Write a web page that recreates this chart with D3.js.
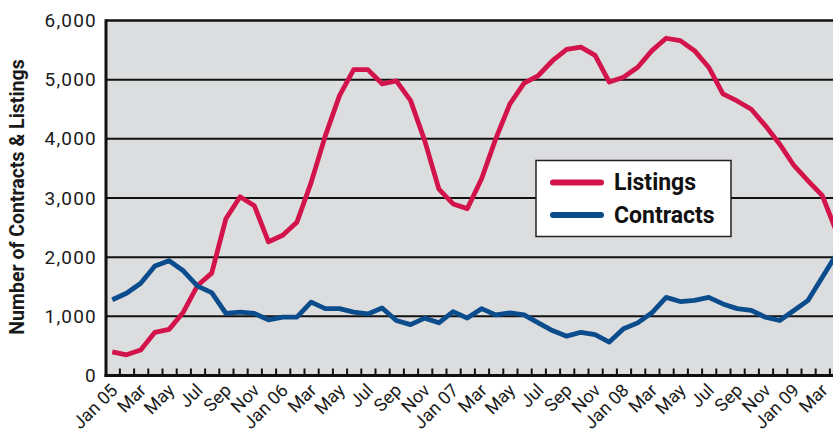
<!DOCTYPE html>
<html>
<head>
<meta charset="utf-8">
<script src="https://cdn.jsdelivr.net/npm/d3@7"></script>
<style>
  html, body { margin: 0; padding: 0; background: #ffffff; }
  svg { display: block; }
</style>
</head>
<body>
<svg id="chart" width="833" height="432"></svg>
<script>
// Monthly listings and contracts, Jan 2005 – Apr 2009
const months = ["Jan 05","Feb","Mar","Apr","May","Jun","Jul","Aug","Sep","Oct","Nov","Dec",
                "Jan 06","Feb","Mar","Apr","May","Jun","Jul","Aug","Sep","Oct","Nov","Dec",
                "Jan 07","Feb","Mar","Apr","May","Jun","Jul","Aug","Sep","Oct","Nov","Dec",
                "Jan 08","Feb","Mar","Apr","May","Jun","Jul","Aug","Sep","Oct","Nov","Dec",
                "Jan 09","Feb","Mar","Apr"];

const listings = [400,350,430,730,780,1070,1520,1730,2650,3020,2870,2260,
                  2370,2590,3260,4050,4730,5170,5170,4930,4980,4650,3970,3150,
                  2900,2820,3320,4000,4590,4940,5070,5320,5510,5550,5410,4960,
                  5040,5210,5490,5700,5660,5490,5210,4760,4640,4500,4220,3910,
                  3550,3290,3040,2430];

const contracts = [1280,1390,1560,1850,1940,1770,1510,1400,1050,1070,1050,940,
                   985,985,1240,1130,1130,1070,1040,1140,930,860,970,890,
                   1080,970,1130,1025,1060,1025,890,760,665,730,690,565,
                   790,890,1060,1320,1250,1270,1320,1210,1130,1100,985,930,
                   1100,1270,1660,2050];

const yTicks = [0, 1000, 2000, 3000, 4000, 5000, 6000];

const series = [
  { name: "Listings",  values: listings,  color: "#d2144a" },
  { name: "Contracts", values: contracts, color: "#0b4c8c" }
];

const svg = d3.select("#chart");
const plot = { left: 106, top: 20.5, bottom: 375.5, right: 833 };
const step = 14.2;

const x = d3.scaleLinear()
  .domain([-0.5, months.length - 0.5])
  .range([plot.left - 0.8, plot.left - 0.8 + step * months.length]);
const y = d3.scaleLinear().domain([0, 6000]).range([plot.bottom, plot.top]);

// plot background
svg.append("rect")
  .attr("x", plot.left).attr("y", plot.top)
  .attr("width", plot.right - plot.left + 10).attr("height", plot.bottom - plot.top)
  .attr("fill", "#dcdddf");

// horizontal grid lines
svg.append("g")
  .selectAll("line")
  .data(yTicks.filter(d => d > 0))
  .join("line")
  .attr("x1", plot.left).attr("x2", plot.right + 10)
  .attr("y1", d => y(d)).attr("y2", d => y(d))
  .attr("stroke", "#111").attr("stroke-width", d => d === 6000 ? 2.6 : 2);

// y axis labels
svg.append("g")
  .selectAll("text")
  .data(yTicks)
  .join("text")
  .attr("x", 97).attr("y", d => y(d))
  .attr("dy", "0.35em")
  .attr("text-anchor", "end")
  .attr("font-family", "Roboto, sans-serif")
  .attr("font-size", 19)
  .attr("letter-spacing", 1.2)
  .attr("fill", "#1a1a1a")
  .text(d => d3.format(",")(d));

// y axis title
svg.append("text")
  .attr("transform", "translate(24,197) rotate(-90)")
  .attr("text-anchor", "middle")
  .attr("font-family", "Roboto, sans-serif")
  .attr("font-weight", 700)
  .attr("font-size", 19.5)
  .attr("fill", "#1a1a1a")
  .text("Number of Contracts & Listings");

// data lines
const line = d3.line()
  .x((d, i) => x(i))
  .y(d => y(d));

svg.append("g")
  .selectAll("path")
  .data(series)
  .join("path")
  .attr("d", d => line(d.values))
  .attr("fill", "none")
  .attr("stroke", d => d.color)
  .attr("stroke-width", 4.8)
  .attr("stroke-linejoin", "round");

// bottom axis tick marks between months
const tickAxis = d3.axisBottom(x)
  .tickValues(d3.range(0.5, months.length - 0.5, 1))
  .tickSize(-7)
  .tickFormat("");
const tg = svg.append("g")
  .attr("transform", `translate(0,${plot.bottom})`)
  .call(tickAxis);
tg.select(".domain").remove();
tg.selectAll(".tick line").attr("stroke", "#111").attr("stroke-width", 2);

// axis lines
svg.append("line")
  .attr("x1", plot.left).attr("x2", plot.left)
  .attr("y1", plot.top - 1.3).attr("y2", plot.bottom + 1.5)
  .attr("stroke", "#111").attr("stroke-width", 3);
svg.append("line")
  .attr("x1", plot.left - 1.5).attr("x2", plot.right + 10)
  .attr("y1", plot.bottom).attr("y2", plot.bottom)
  .attr("stroke", "#111").attr("stroke-width", 3);

// month labels, every second month
svg.append("g")
  .selectAll("text")
  .data(months.map((m, i) => ({ m, i })).filter(d => d.i % 2 === 0))
  .join("text")
  .attr("transform", d => `translate(${x(d.i) + 2},387) rotate(-45)`)
  .attr("text-anchor", "end")
  .attr("dy", "0.35em")
  .attr("font-family", "Roboto, sans-serif")
  .attr("font-size", 18)
  .attr("fill", "#1a1a1a")
  .text(d => d.m);

// legend
const lg = svg.append("g");
lg.append("rect")
  .attr("x", 536).attr("y", 160.5)
  .attr("width", 195).attr("height", 76)
  .attr("fill", "#ffffff").attr("stroke", "#222").attr("stroke-width", 1.5);
series.forEach((s, k) => {
  const cy = 182.5 + k * 32.5;
  lg.append("line")
    .attr("x1", 553).attr("x2", 601)
    .attr("y1", cy).attr("y2", cy)
    .attr("stroke", s.color).attr("stroke-width", 6)
    .attr("stroke-linecap", "round");
  lg.append("text")
    .attr("x", 614).attr("y", cy + 7.5)
    .attr("font-family", "Roboto, sans-serif")
    .attr("font-weight", 700)
    .attr("font-size", 23)
    .attr("fill", "#111")
    .text(s.name);
});
</script>
</body>
</html>
